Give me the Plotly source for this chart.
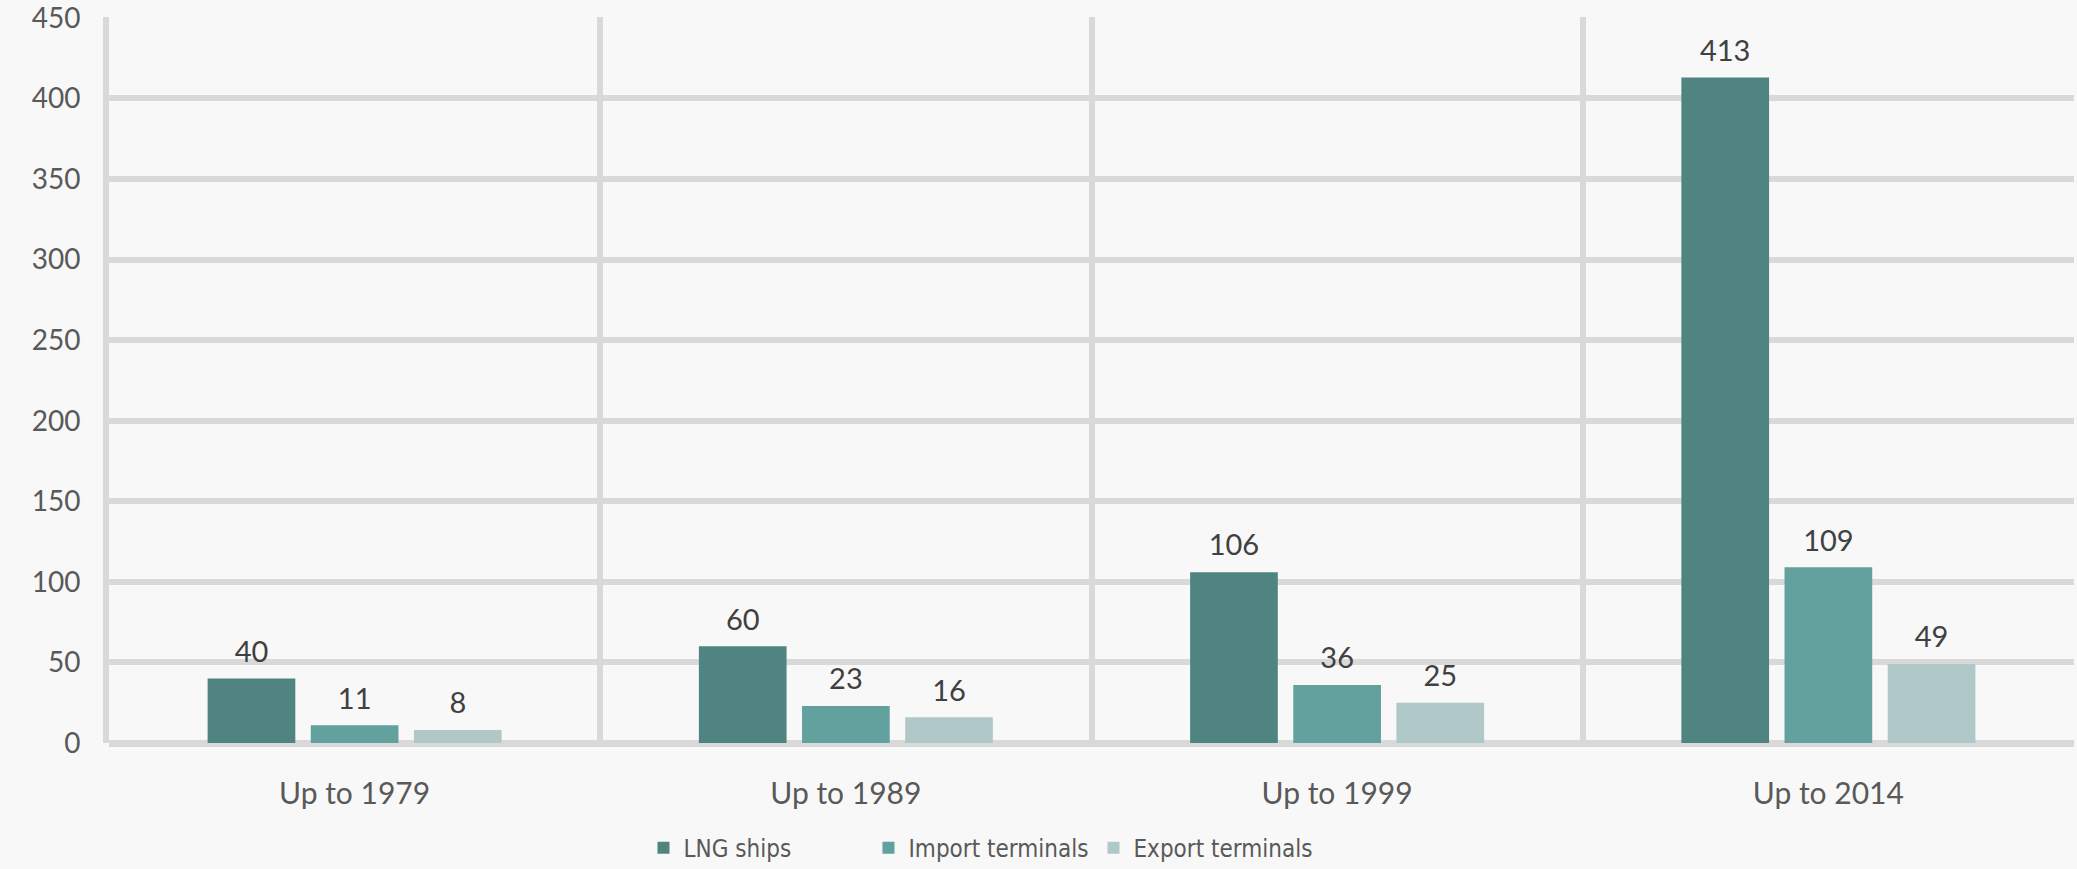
import plotly.graph_objects as go

categories = ["Up to 1979", "Up to 1989", "Up to 1999", "Up to 2014"]
lng_ships = [40, 60, 106, 413]
import_terminals = [11, 23, 36, 109]
export_terminals = [8, 16, 25, 49]
y_ticks = [0, 50, 100, 150, 200, 250, 300, 350, 400, 450]

series = [
    ("LNG ships", lng_ships, "#508480"),
    ("Import terminals", import_terminals, "#62a19d"),
    ("Export terminals", export_terminals, "#b0c8c8"),
]

FONT = "Lato"
fig = go.Figure()
for name, vals, col in series:
    fig.add_trace(go.Bar(
        x=categories, y=vals, name=name,
        marker=dict(color=col, line=dict(width=0)),
        texttemplate="<span style='font-size:29px'>%{y}</span><br>\u00a0",
        textposition="outside",
        textfont=dict(family=FONT, size=9, color="#404040"),
        cliponaxis=False,
    ))

fig.update_layout(
    width=2077, height=869,
    margin=dict(l=109, r=3, t=17, b=126, autoexpand=False),
    paper_bgcolor="#f8f8f8", plot_bgcolor="#f8f8f8",
    barmode="group", bargap=0.37, bargroupgap=0.15,
    font=dict(family=FONT, color="#595959"),
    showlegend=True,
    legend=dict(orientation="h", x=0.272, xanchor="left", yref="container", y=0.024, yanchor="middle",
                font=dict(family="DejaVu Sans Condensed", size=24, color="#595959"),
                itemwidth=30, traceorder="normal", entrywidth=180),
    xaxis=dict(
        type="category", tickson="boundaries", showgrid=True, gridcolor="#d9d9d9", gridwidth=6,
        ticks="", ticklabelstandoff=30, tickfont=dict(family=FONT, size=30, color="#595959"),
        showline=False, zeroline=False,
    ),
    yaxis=dict(
        range=[0, 450.5], tickvals=y_ticks, showgrid=True, gridcolor="#d9d9d9", gridwidth=6,
        showline=True, linecolor="#d9d9d9", linewidth=6,
        zeroline=True, zerolinecolor="#d9d9d9", zerolinewidth=7,
        ticks="", ticklabelstandoff=17, ticklabeloverflow="allow",
        tickfont=dict(family=FONT, size=28, color="#595959"),
    ),
)

fig.write_html("out.html")
